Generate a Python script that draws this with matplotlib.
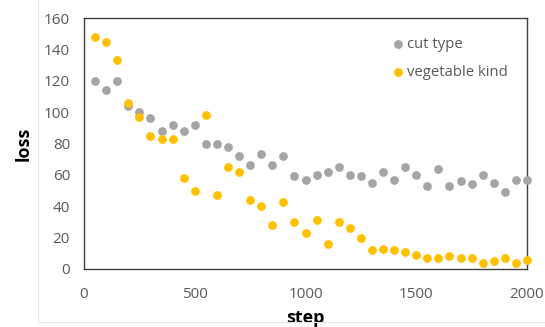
import matplotlib
matplotlib.use("Agg")
import matplotlib.pyplot as plt
from matplotlib.patches import Rectangle

steps = list(range(50, 2001, 50))
cut_type = [120, 114, 120, 104, 100, 96, 88, 92, 88, 92,
            80, 80, 78, 72, 66, 73, 66, 72, 59, 57,
            60, 62, 65, 60, 59, 55, 62, 57, 65, 60,
            53, 64, 53, 56, 54, 60, 55, 49, 57, 57]
vegetable_kind = [148, 145, 133, 106, 97, 85, 83, 83, 58, 50,
                  98, 47, 65, 62, 44, 40, 28, 43, 30, 23,
                  31, 16, 30, 26, 20, 12, 13, 12, 11, 9,
                  7, 7, 8, 7, 7, 4, 5, 7, 4, 6]
series_names = ["cut type", "vegetable kind"]
colors = ["#A5A5A5", "#FFC000"]

plt.rcParams['font.family'] = ['Open Sans', 'DejaVu Sans']

fig = plt.figure(figsize=(5.45, 3.27), dpi=100)
ax = fig.add_axes([84/545, 1-269/327, (527-84)/545, (269-18)/327])

# faint chart-area border
fig.patches.append(Rectangle((38/545, 5/327), 1.0, 1.0, transform=fig.transFigure,
                             fill=False, edgecolor="#E6E6E6", linewidth=0.8))

for vals, name, c in zip([cut_type, vegetable_kind], series_names, colors):
    ax.scatter(steps, vals, s=40, color=c, label=name, linewidths=0, zorder=3, clip_on=False)

ax.set_xlim(0, 2000)
ax.set_ylim(0, 160)
ax.set_xticks([0, 500, 1000, 1500, 2000])
ax.set_yticks(range(0, 161, 20))
ax.tick_params(length=0, labelsize=11, labelcolor="#595959")
ax.tick_params(axis="y", pad=10)
ax.tick_params(axis="x", pad=13)
for sp in ax.spines.values():
    sp.set_color("#404040")
    sp.set_linewidth(1.0)

ax.set_ylabel("loss", fontsize=13, fontweight="bold", labelpad=8)
ax.set_xlabel("step", fontsize=13, fontweight="bold", labelpad=5)

leg = ax.legend(loc="upper left", bbox_to_anchor=(0.695, 0.923), frameon=False, fontsize=10.7,
                handletextpad=0.2, handlelength=0.8, labelcolor="#595959",
                borderaxespad=0.0, borderpad=0.0, labelspacing=0.85)

fig.savefig("out.png", dpi=100)
